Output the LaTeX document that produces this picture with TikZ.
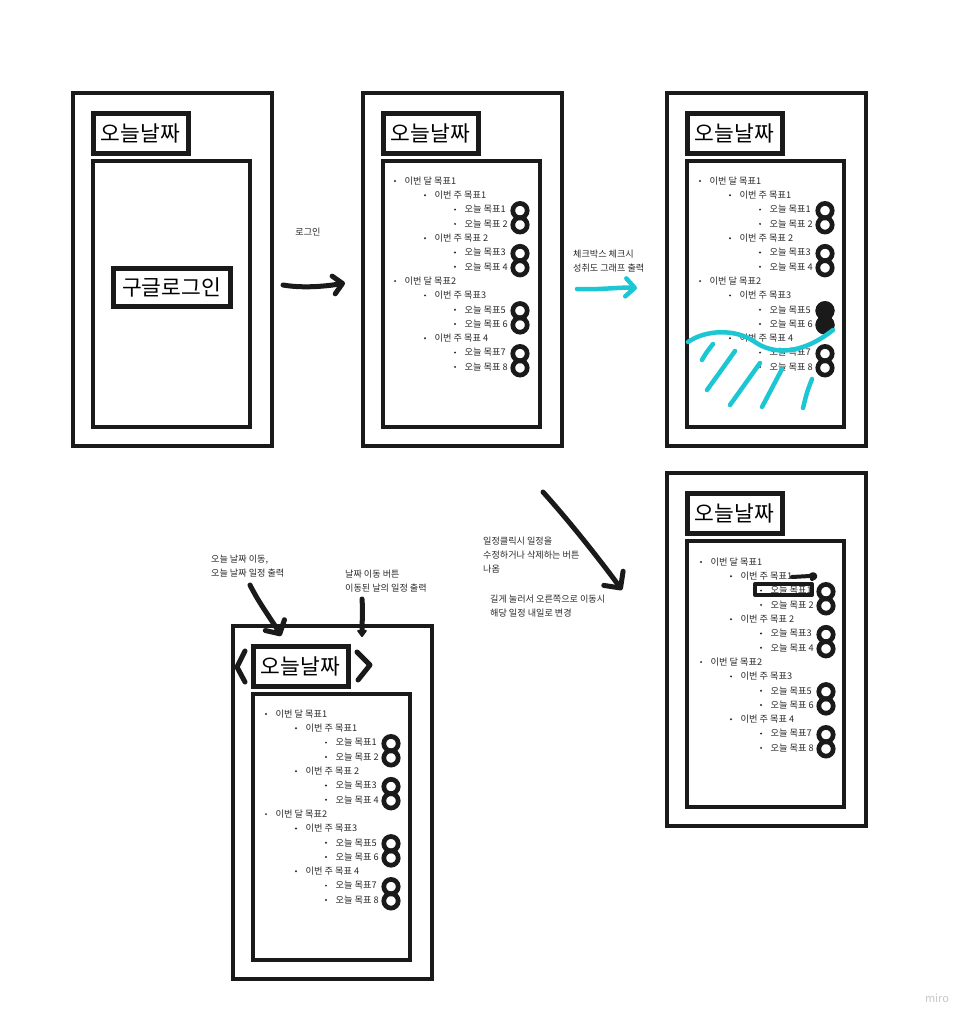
\documentclass[tikz,border=0pt]{standalone}
\usepackage{fontspec}
\setmainfont{Noto Sans CJK KR}
\usetikzlibrary{arrows.meta}
\definecolor{ink}{HTML}{1A1A1A}
\definecolor{txt}{HTML}{2A2A2A}
\definecolor{cyanpen}{HTML}{1CC7D3}
\definecolor{logo}{HTML}{C8C8CC}
\tikzset{
  frame/.style={draw=ink, line width=4.5, inner sep=0, minimum width=199, minimum height=353},
  panel/.style={draw=ink, line width=4.5, inner sep=0, minimum width=157, minimum height=266},
  titlebox/.style={draw=ink, line width=5, inner sep=0, minimum width=95, minimum height=40, font=\fontsize{21.5}{24}\selectfont},
  item/.style={anchor=west, inner sep=0, text=txt, font=\fontsize{9.2}{10}\selectfont},
  ring/.style={circle, draw=ink, line width=4.7, inner sep=0, minimum size=14.4},
  note/.style={anchor=west, align=left, inner sep=0, text=txt, font=\fontsize{9.1}{14.3}\selectfont},
  pen/.style={draw=ink, line width=5, line cap=round, line join=round},
  cpen/.style={draw=cyanpen, line width=4.5, line cap=round, line join=round},
  barb/.style={-{Straight Barb[length=9pt, width=18pt, line cap=round, line join=round]}},
}
\newcommand\drawscreen[3]{%
  \node[frame] (#1) at (#2+99.5,#3+176.5) {};
  \node[titlebox] (#1-title) at (#2+67.5,#3+40) {오늘날짜};
  \node[panel] (#1-panel) at (#2+98.5,#3+201) {};
}
\newcommand\goallist[3]{%
  \foreach \lev/\txt [count=\i] in {1/이번 달 목표1, 2/이번 주 목표1, 3/오늘 목표1, 3/오늘 목표 2, 2/이번 주 목표 2, 3/오늘 목표3, 3/오늘 목표 4, 1/이번 달 목표2, 2/이번 주 목표3, 3/오늘 목표5, 3/오늘 목표 6, 2/이번 주 목표 4, 3/오늘 목표7, 3/오늘 목표 8}{
    \pgfmathsetmacro\bx{#2+13+30*(\lev-1)}
    \pgfmathsetmacro\by{#3+20+14.3*(\i-1)}
    \fill[txt] (\bx,\by) circle[radius=1.1];
    \node[item] (#1-g\i) at (\bx+9.5,\by) {\txt};
    \ifnum\lev=3 \node[ring] (#1-r\i) at (#2+138,\by+1) {};\fi
  }
}
\begin{document}
\begin{tikzpicture}[x=1pt,y=-1pt]
\fill[white] (0,0) rectangle (974,1025);
\useasboundingbox (0,0) rectangle (974,1025);

% screen 1: login
\drawscreen{s1}{73}{93}
\node[titlebox, minimum width=117, minimum height=38] (login) at (171.5,287) {구글로그인};

% screens 2-5
\drawscreen{s2}{363}{93}
\goallist{s2}{382}{161}
\drawscreen{s3}{667}{93}
\goallist{s3}{687}{161}
\fill[ink] (s3-r10.center) circle[radius=9.5];
\fill[ink] (s3-r11.center) circle[radius=9.5];
\drawscreen{s4}{667}{473}
\goallist{s4}{688}{542}
\drawscreen{s5}{233}{626}
\goallist{s5}{253}{694}

% login arrow
\node[note, anchor=center] (n1) at (308,232) {로그인};
\coordinate (a1s) at (283,285);
\coordinate (a1e) at (345,283);
\draw[pen, barb] (a1s) .. controls (300,288) and (322,287) .. (a1e);

% checkbox arrow
\node[note] (n2) at (573,261) {체크박스 체크시\\성취도 그래프 출력};
\coordinate (a2s) at (577,289);
\coordinate (a2e) at (637,288);
\draw[cpen, -{Straight Barb[length=9pt, width=18pt, line cap=round, line join=round]}] (a2s) .. controls (600,290) and (620,287) .. (a2e);

% cyan scribble on screen 3
\draw[cpen] (688,342) .. controls (705,330) and (735,328) .. (755,342)
  .. controls (772,354) and (800,356) .. (833,330);
\draw[cpen] (702,360) .. controls (706,353) .. (713,344);
\draw[cpen] (707,390) .. controls (720,372) .. (735,351);
\draw[cpen] (730,405) .. controls (745,384) .. (760,363);
\draw[cpen] (762,407) .. controls (772,388) .. (782,369);
\draw[cpen] (803,408) .. controls (807,392) .. (812,379);

% diagonal arrow to screen 4
\coordinate (a3s) at (543,492);
\coordinate (a3e) at (622,590);
\draw[pen, -{Straight Barb[length=12pt, width=24pt, line cap=round, line join=round]}] (a3s) .. controls (570,522) and (600,560) .. (a3e);
\node[note] (n3) at (483,555) {일정클릭시 일정을\\수정하거나 삭제하는 버튼\\나옴};
\node[note] (n4) at (490,606) {길게 눌러서 오른쪽으로 이동시\\해당 일정 내일로 변경};

% highlight on screen 4
\draw[ink, line width=4, line join=round] (755,584) rectangle (812,595);
\draw[pen, line width=4] (792,577) -- (810,576) .. controls (815,571) and (818,578) .. (812,579);

% bottom-left screen arrows and brackets
\node[note] (n5) at (211,566) {오늘 날짜 이동,\\오늘 날짜 일정 출력};
\node[note] (n6) at (345,581) {날짜 이동 버튼\\이동된 날의 일정 출력};
\coordinate (a4s) at (250,585);
\coordinate (a4e) at (281,636);
\draw[pen, -{Straight Barb[length=10pt, width=22pt, line cap=round, line join=round]}] (a4s) .. controls (260,605) and (272,620) .. (a4e);
\coordinate (a5s) at (362,599);
\coordinate (a5e) at (362,637);
\draw[pen, -{Triangle[length=8pt, width=11pt, round]}] (a5s) .. controls (363,612) and (362,622) .. (a5e);
\draw[pen] (245,651) -- (237,667) -- (245,682);
\draw[pen] (357,652) -- (370,665) -- (358,680);

% logo
\node[text=logo, inner sep=0, font=\fontsize{11}{12}\selectfont] (miro) at (937,998) {miro};
\end{tikzpicture}
\end{document}
